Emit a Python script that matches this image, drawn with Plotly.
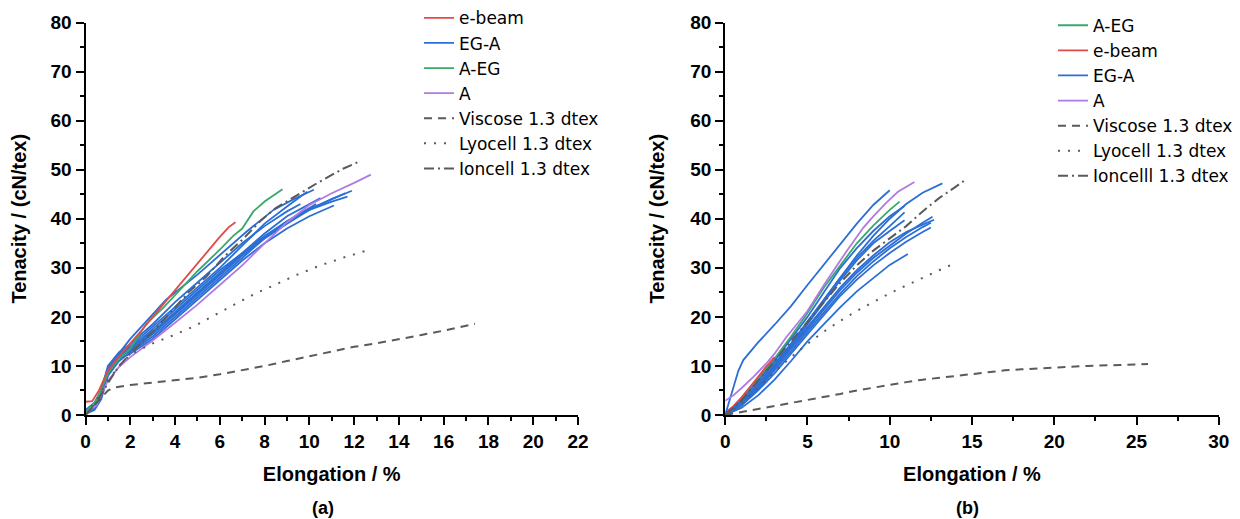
import plotly.graph_objects as go

# ---------------- Panel (a) data ----------------
A_EBEAM_X = [0, 0.3, 0.6, 1.0, 1.5, 2.0, 2.5, 3.0, 3.5, 4.0, 4.5, 5.0, 5.5, 6.0, 6.4, 6.7]
A_EBEAM_Y = [2.7, 2.8, 5.0, 9.0, 12.0, 14.5, 17.2, 20.0, 22.7, 25.5, 28.3, 31.0, 33.5, 36.3, 38.3, 39.3]

A_AEG_X = [0, 0.5, 1.0, 1.5, 2.0, 2.7, 3.5, 4.0, 5.0, 6.0, 6.6, 7.0, 7.5, 8.0, 8.8]
A_AEG_Y = [0.5, 3.0, 8.5, 11.5, 13.5, 18.5, 22.0, 24.5, 29.3, 33.7, 36.5, 38.0, 41.5, 43.5, 46.0]

A_A_X = [0, 0.5, 1.0, 1.5, 2.0, 3.0, 4.0, 5.0, 6.0, 7.0, 8.0, 9.0, 10.0, 11.0, 12.0, 12.75]
A_A_Y = [0.3, 2.0, 7.0, 9.8, 11.8, 15.2, 18.8, 22.5, 26.5, 30.5, 35.0, 39.3, 42.8, 45.2, 47.3, 49.0]

A_EGA1_X = [0, 0.3, 0.5, 1.0, 1.4, 2.0, 3.0, 3.6, 5.0, 6.1, 7.2, 8.4, 9.3, 10.2]
A_EGA1_Y = [0.5, 1.0, 2.0, 9.0, 12.0, 15.5, 20.5, 23.5, 28.6, 33.0, 37.4, 41.8, 44.0, 45.9]
A_EGA2_X = [0, 0.4, 0.7, 1.0, 1.5, 2.0, 3.0, 4.0, 5.0, 6.0, 7.0, 8.0, 9.0, 10.0, 11.0, 11.9]
A_EGA2_Y = [0.5, 1.5, 4.0, 8.5, 12.0, 13.0, 16.5, 20.5, 24.5, 28.5, 32.5, 36.0, 39.0, 41.8, 44.0, 45.7]
A_EGA3_X = [0, 0.4, 0.7, 1.0, 1.5, 2.0, 3.0, 4.0, 5.0, 6.0, 7.0, 8.0, 9.0, 10.0, 11.0, 11.6]
A_EGA3_Y = [1.0, 2.5, 5.0, 9.5, 12.0, 13.5, 17.5, 21.5, 25.5, 29.5, 33.0, 36.5, 39.5, 42.0, 44.0, 45.2]
A_EGA4_X = [0, 0.4, 0.7, 1.0, 1.5, 2.0, 3.0, 4.0, 5.0, 6.0, 7.0, 8.0, 9.0, 10.0, 11.1]
A_EGA4_Y = [0.3, 1.2, 3.5, 8.0, 11.5, 12.5, 15.5, 19.5, 23.5, 27.5, 31.5, 35.0, 38.0, 40.5, 42.7]
A_EGA5_X = [0, 0.4, 0.7, 1.0, 1.5, 2.0, 3.0, 4.0, 5.0, 6.0, 7.0, 8.0, 9.0, 10.0, 10.5]
A_EGA5_Y = [0.8, 2.0, 4.5, 9.0, 12.3, 13.8, 17.0, 21.0, 25.0, 29.0, 33.0, 37.0, 40.5, 43.0, 44.2]
A_EGA6_X = [0, 0.4, 0.7, 1.0, 1.5, 2.0, 3.0, 4.0, 5.0, 6.0, 7.0, 8.0, 9.0, 9.9]
A_EGA6_Y = [0.5, 1.8, 4.5, 9.5, 12.5, 14.0, 18.0, 22.0, 26.0, 30.0, 34.5, 39.0, 42.5, 45.5]
A_EGA7_X = [0, 0.4, 0.7, 1.0, 1.5, 2.0, 3.0, 4.0, 5.0, 6.0, 7.0, 8.0, 9.0, 10.3]
A_EGA7_Y = [0.2, 1.0, 3.2, 8.0, 11.0, 12.8, 16.0, 20.0, 24.0, 28.0, 32.0, 36.0, 39.5, 43.0]
A_EGA8_X = [0, 0.4, 0.7, 1.0, 1.5, 2.0, 3.0, 4.0, 5.0, 6.0, 7.0, 8.0, 9.0, 9.6]
A_EGA8_Y = [0.6, 2.0, 5.0, 10.0, 12.8, 14.5, 18.5, 23.0, 27.0, 31.0, 35.0, 38.5, 41.5, 43.0]
A_EGA9_X = [0, 0.4, 0.7, 1.0, 1.5, 2.0, 3.0, 4.0, 5.0, 6.0, 7.0, 8.0, 9.0, 10.0, 11.0, 11.7]
A_EGA9_Y = [0.4, 1.4, 3.8, 8.8, 11.8, 13.2, 16.8, 20.8, 24.8, 28.8, 32.6, 36.3, 39.4, 41.8, 43.5, 44.5]

A_VIS_X = [0, 0.5, 1.0, 1.3, 2.0, 3.0, 4.0, 5.0, 6.0, 7.0, 8.0, 9.0, 10.0, 11.0, 12.0, 13.0, 14.0, 15.0, 16.0, 17.4]
A_VIS_Y = [0, 2.5, 5.0, 5.6, 6.1, 6.6, 7.1, 7.6, 8.3, 9.1, 10.0, 11.0, 12.0, 13.0, 13.9, 14.6, 15.4, 16.3, 17.2, 18.6]
A_LYO_X = [0, 0.5, 1.0, 1.5, 2.0, 3.0, 3.9, 4.9, 5.7, 6.7, 7.6, 8.5, 9.4, 10.5, 11.6, 12.7]
A_LYO_Y = [0, 3.0, 7.0, 10.0, 12.3, 14.6, 16.2, 18.2, 20.2, 22.6, 24.8, 26.6, 28.5, 30.5, 32.2, 33.7]
A_ION_X = [0, 0.5, 1.0, 1.5, 2.0, 3.0, 3.9, 4.6, 5.4, 6.2, 7.0, 7.8, 8.5, 9.6, 10.4, 11.5, 12.2]
A_ION_Y = [0, 2.5, 6.5, 10.0, 12.5, 17.0, 21.4, 25.0, 28.2, 32.3, 35.7, 39.5, 42.2, 45.2, 47.4, 50.2, 51.6]

# ---------------- Panel (b) data ----------------
B_AEG_X = [0, 1, 2, 3, 4, 5, 6, 7, 8, 9, 10, 10.6]
B_AEG_Y = [0, 3.5, 7.5, 11.5, 16.0, 20.8, 26.0, 30.5, 35.0, 38.6, 41.8, 43.5]
B_EBEAM_X = [0, 0.5, 1.0, 1.5, 2.0, 2.5, 3.0]
B_EBEAM_Y = [0.5, 1.8, 3.6, 5.6, 7.8, 9.9, 11.8]
B_A_X = [0, 0.5, 1.0, 1.7, 2.5, 3.0, 3.7, 5.0, 6.0, 7.0, 7.4, 8.4, 9.0, 9.8, 10.5, 11.5]
B_A_Y = [2.9, 4.0, 5.5, 7.7, 10.5, 12.5, 15.8, 21.2, 26.5, 31.5, 33.5, 38.2, 40.5, 43.3, 45.5, 47.5]

B_EGA1_X = [0, 0.3, 0.5, 0.8, 1.1, 1.5, 2.0, 3.0, 4.0, 5.0, 6.0, 7.0, 8.0, 9.0, 10.0]
B_EGA1_Y = [0, 3.5, 6.0, 9.0, 11.2, 12.8, 14.8, 18.4, 22.2, 26.5, 30.7, 34.8, 39.0, 42.8, 45.8]
B_EGA2_X = [0, 1, 2, 3, 4, 5, 6, 7, 8, 9, 10, 11, 12, 13.2]
B_EGA2_Y = [0, 2.5, 6.0, 10.0, 14.5, 19.0, 23.5, 28.0, 32.5, 36.5, 40.0, 43.0, 45.3, 47.2]
B_EGA3_X = [0, 1, 2, 3, 4, 5, 6, 7, 8, 9, 10, 10.9]
B_EGA3_Y = [0, 3.0, 7.0, 11.0, 15.5, 20.0, 25.0, 30.0, 34.0, 37.5, 40.5, 42.6]
B_EGA4_X = [0, 1, 2, 3, 4, 5, 6, 7, 8, 9, 10, 10.9]
B_EGA4_Y = [0, 2.5, 6.5, 10.5, 14.5, 19.0, 23.5, 28.0, 32.0, 35.5, 38.5, 41.3]
B_EGA5_X = [0, 1, 2, 3, 4, 5, 6, 7, 8, 9, 10, 10.9]
B_EGA5_Y = [0, 2.5, 6.0, 10.0, 14.0, 18.5, 23.0, 27.5, 31.5, 35.0, 37.5, 39.7]
B_EGA6_X = [0, 1, 2, 3, 4, 5, 6, 7, 8, 9, 10, 11, 12, 12.6]
B_EGA6_Y = [0, 2.2, 5.5, 9.5, 13.5, 17.5, 21.5, 25.5, 29.0, 32.0, 34.5, 37.0, 39.2, 40.4]
B_EGA7_X = [0, 1, 2, 3, 4, 5, 6, 7, 8, 9, 10, 11, 12, 12.5]
B_EGA7_Y = [0, 2.0, 5.2, 9.0, 13.0, 17.0, 21.0, 24.8, 28.3, 31.3, 34.0, 36.3, 38.3, 39.2]
B_EGA8_X = [0, 1, 2, 3, 4, 5, 6, 7, 8, 9, 10, 11, 12, 12.5]
B_EGA8_Y = [0, 2.0, 5.0, 8.5, 12.5, 16.5, 20.5, 24.3, 27.6, 30.5, 33.0, 35.3, 37.3, 38.2]
B_EGA9_X = [0, 1, 2, 3, 4, 5, 6, 7, 8, 9, 10, 11.1]
B_EGA9_Y = [0, 1.5, 4.0, 7.2, 11.0, 15.0, 18.5, 22.0, 25.2, 28.0, 30.6, 32.8]
B_EGA10_X = [0, 1, 2, 3, 4, 5, 6, 7, 8, 9, 10, 11, 12, 12.7]
B_EGA10_Y = [0, 2.3, 5.8, 9.8, 14.0, 18.0, 22.0, 26.0, 29.5, 32.5, 35.2, 37.3, 38.8, 39.8]

B_VIS_X = [0, 1, 2, 3, 4, 5, 6, 7, 8, 9, 10, 11, 12, 13, 14, 15, 16, 17, 18, 19, 20, 22, 24, 25.7]
B_VIS_Y = [0, 0.6, 1.2, 1.8, 2.4, 3.0, 3.6, 4.3, 5.0, 5.6, 6.2, 6.7, 7.2, 7.6, 8.0, 8.4, 8.8, 9.1, 9.3, 9.5, 9.7, 10.0, 10.2, 10.4]
B_LYO_X = [0, 1, 2, 3, 4, 5, 6, 7, 8, 9, 10, 11, 12, 13, 13.8]
B_LYO_Y = [0, 2.5, 5.5, 8.8, 11.8, 14.5, 17.0, 19.2, 21.2, 23.0, 24.8, 26.4, 28.0, 29.5, 30.7]
B_ION_X = [0, 1, 2, 3, 4, 5, 6, 7, 8, 9, 10, 11, 12, 13, 14, 14.5]
B_ION_Y = [0, 3.0, 7.0, 11.0, 15.0, 19.0, 23.0, 27.0, 30.5, 33.5, 36.0, 38.5, 41.5, 44.2, 46.5, 47.7]

A_EGA_X = [A_EGA1_X, A_EGA2_X, A_EGA3_X, A_EGA4_X, A_EGA5_X, A_EGA6_X, A_EGA7_X, A_EGA8_X, A_EGA9_X]
A_EGA_Y = [A_EGA1_Y, A_EGA2_Y, A_EGA3_Y, A_EGA4_Y, A_EGA5_Y, A_EGA6_Y, A_EGA7_Y, A_EGA8_Y, A_EGA9_Y]
B_EGA_X = [B_EGA1_X, B_EGA2_X, B_EGA3_X, B_EGA4_X, B_EGA5_X, B_EGA6_X, B_EGA7_X, B_EGA8_X, B_EGA9_X, B_EGA10_X]
B_EGA_Y = [B_EGA1_Y, B_EGA2_Y, B_EGA3_Y, B_EGA4_Y, B_EGA5_Y, B_EGA6_Y, B_EGA7_Y, B_EGA8_Y, B_EGA9_Y, B_EGA10_Y]

RED = "#e04a48"
BLUE = "#2b6fd6"
GREEN = "#3aa86a"
PURPLE = "#b07be0"
GRAY = "#5a5a5a"

FONT = "Liberation Sans, Arial, sans-serif"
LEGFONT = "DejaVu Sans, sans-serif"

fig = go.Figure()


def line(x, y, name, color, xa, ya, leg, rank, show, dash="solid", width=1.8):
    fig.add_trace(go.Scatter(
        x=x, y=y, mode="lines", name=name,
        line=dict(color=color, width=width, dash=dash),
        xaxis=xa, yaxis=ya, legend=leg, legendrank=rank,
        showlegend=show, legendgroup=leg + name, hoverinfo="skip"))


# Panel (a)
for i, (xs, ys) in enumerate(zip(A_EGA_X, A_EGA_Y)):
    line(xs, ys, "EG-A", BLUE, "x", "y", "legend", 2, i == 0)
line(A_A_X, A_A_Y, "A", PURPLE, "x", "y", "legend", 4, True)
line(A_AEG_X, A_AEG_Y, "A-EG", GREEN, "x", "y", "legend", 3, True)
line(A_EBEAM_X, A_EBEAM_Y, "e-beam", RED, "x", "y", "legend", 1, True)
line(A_VIS_X, A_VIS_Y, "Viscose 1.3 dtex", GRAY, "x", "y", "legend", 5, True, "8px,6px", 2)
line(A_LYO_X, A_LYO_Y, "Lyocell 1.3 dtex", GRAY, "x", "y", "legend", 6, True, "2px,8px", 2)
line(A_ION_X, A_ION_Y, "Ioncell 1.3 dtex", GRAY, "x", "y", "legend", 7, True, "10px,4px,2px,4px", 2)

# Panel (b)
line(B_AEG_X, B_AEG_Y, "A-EG", GREEN, "x2", "y2", "legend2", 1, True)
line(B_EBEAM_X, B_EBEAM_Y, "e-beam", RED, "x2", "y2", "legend2", 2, True)
for i, (xs, ys) in enumerate(zip(B_EGA_X, B_EGA_Y)):
    line(xs, ys, "EG-A", BLUE, "x2", "y2", "legend2", 3, i == 0)
line(B_A_X, B_A_Y, "A", PURPLE, "x2", "y2", "legend2", 4, True)
line(B_VIS_X, B_VIS_Y, "Viscose 1.3 dtex", GRAY, "x2", "y2", "legend2", 5, True, "8px,6px", 2)
line(B_LYO_X, B_LYO_Y, "Lyocell 1.3 dtex", GRAY, "x2", "y2", "legend2", 6, True, "2px,8px", 2)
line(B_ION_X, B_ION_Y, "Ioncelll 1.3 dtex", GRAY, "x2", "y2", "legend2", 7, True, "10px,4px,2px,4px", 2)

# The page body adds an 8 px margin, so the figure is sized and placed to compensate.
OFF = 8
W, H = 1240 - OFF, 519 - OFF
tickfont = dict(family=FONT, size=19, color="black", weight="bold")
titlefont = dict(family=FONT, size=20, color="black", weight="bold")


def xaxis(domain, rng, dt, mdt, anchor):
    return dict(domain=domain, range=rng, dtick=dt, tick0=0, anchor=anchor,
                automargin=False,
                showline=True, linecolor="black", linewidth=2, mirror=False,
                ticks="outside", ticklen=8, tickwidth=2, tickcolor="black",
                showgrid=False, zeroline=False, tickfont=tickfont,
                minor=dict(dtick=mdt, tick0=0, ticks="outside", ticklen=4, tickwidth=2,
                           tickcolor="black", showgrid=False),
                title=dict(text="Elongation / %", font=titlefont, standoff=16))


def yaxis(domain, anchor):
    return dict(domain=domain, range=[0, 80], dtick=10, tick0=0, anchor=anchor,
                automargin=False,
                showline=True, linecolor="black", linewidth=2,
                ticks="outside", ticklen=8, tickwidth=2, tickcolor="black",
                showgrid=False, zeroline=False, tickfont=tickfont,
                minor=dict(dtick=5, tick0=0, ticks="outside", ticklen=4, tickwidth=2,
                           tickcolor="black", showgrid=False),
                title=dict(text="Tenacity / (cN/tex)", font=titlefont, standoff=20))


def px(v):
    return (v - OFF) / W


def py(v):
    return 1 - (v - OFF) / H


ydom = [py(415), py(22.5)]
legfont = dict(family=LEGFONT, size=17, color="black")

fig.update_layout(
    width=W, height=H,
    margin=dict(l=0, r=0, t=0, b=0, autoexpand=False),
    paper_bgcolor="white", plot_bgcolor="white",
    xaxis=xaxis([px(85.5), px(578)], [0, 22], 2, 1, "y"),
    yaxis=yaxis(ydom, "x"),
    xaxis2=xaxis([px(725.2), px(1218.8)], [0, 30], 5, 2.5, "y2"),
    yaxis2=yaxis(ydom, "x2"),
    legend=dict(x=px(419), y=py(0.3), xanchor="left", yanchor="top",
                font=legfont, bgcolor="rgba(0,0,0,0)", traceorder="normal"),
    legend2=dict(x=px(1053), y=py(7.7), xanchor="left", yanchor="top",
                 font=legfont, bgcolor="rgba(0,0,0,0)", traceorder="normal"),
    annotations=[
        dict(text="(a)", x=px(323), y=py(508), xref="paper", yref="paper",
             xanchor="center", yanchor="middle", showarrow=False,
             font=dict(family=FONT, size=18, color="black", weight="bold")),
        dict(text="(b)", x=px(967), y=py(508), xref="paper", yref="paper",
             xanchor="center", yanchor="middle", showarrow=False,
             font=dict(family=FONT, size=18, color="black", weight="bold")),
    ],
)

fig.write_html("out.html")
